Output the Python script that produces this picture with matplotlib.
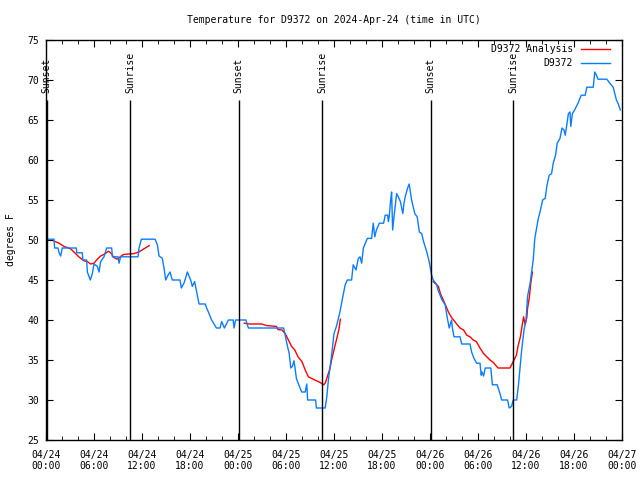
import numpy as np
import pandas as pd
import matplotlib
matplotlib.use("Agg")
import matplotlib.pyplot as plt
import matplotlib.dates as mdates

plt.rcParams['font.family'] = ['DejaVu Sans Mono']
plt.rcParams['font.size'] = 7

### DATA ###
start = pd.Timestamp("2024-04-24 00:00")

# station observations (hours since start, degrees F)
obs_hours = [0.0, 1.0, 1.08, 1.5, 1.6, 1.83, 2.04, 3.79, 3.85, 4.54, 4.6, 5.08, 5.17, 5.54, 5.79,
             6.0, 6.42, 6.63, 6.83, 7.25, 7.58, 8.21, 8.3, 9.0, 9.13, 9.33, 11.5, 11.63, 11.92,
             13.63, 13.92, 14.13, 14.54, 14.75, 14.96, 15.25, 15.5, 15.79, 16.75, 16.92, 17.25,
             17.67, 18.08, 18.29, 18.58, 18.92, 19.13, 19.9, 20.08, 20.3, 20.7, 21.3, 21.75,
             21.96, 22.3, 22.6, 22.8, 23.4, 23.5, 23.7, 25.0, 25.1, 25.3, 29.7, 29.9, 30.1,
             30.4, 30.6, 30.8, 31.0, 31.1, 31.3, 31.6, 31.96, 32.4, 32.6, 32.7, 33.7, 33.8,
             34.9, 35.1, 35.3, 35.7, 36.0, 36.3, 36.7, 37.1, 37.4, 37.67, 38.2, 38.4, 38.75,
             39.04, 39.25, 39.46, 39.67, 40.0, 40.17, 40.7, 40.9, 41.1, 41.3, 41.67, 42.2,
             42.4, 42.7, 42.8, 42.9, 43.08, 43.2, 43.33, 43.5, 43.83, 44.04, 44.3, 44.6,
             44.75, 44.9, 45.2, 45.4, 45.7, 46.1, 46.4, 46.67, 46.96, 47.2, 47.6, 47.9, 48.2,
             48.4, 48.8, 49.0, 49.5, 49.9, 50.1, 50.4, 50.7, 50.8, 51.0, 51.75, 51.96, 53.0,
             53.2, 53.5, 53.83, 54.25, 54.4, 54.5, 54.7, 54.9, 55.6, 55.8, 56.4, 56.75, 56.96,
             57.7, 57.9, 58.2, 58.3, 58.4, 58.83, 59.04, 59.25, 59.46, 59.75, 60.0, 60.2,
             60.5, 60.9, 61.1, 61.54, 61.75, 62.08, 62.4, 62.6, 62.9, 63.2, 63.4, 63.7, 63.9,
             64.25, 64.5, 64.75, 64.9, 65.1, 65.3, 65.5, 65.6, 65.8, 66.1, 66.5, 66.9, 67.4,
             67.6, 68.4, 68.6, 68.8, 69.0, 70.1, 70.4, 70.9, 71.1, 71.3, 71.5, 71.8]
obs_temp = [50.1, 50.1, 49.0, 49.0, 48.5, 48.0, 49.0, 49.0, 48.4, 48.4, 47.5, 47.5, 46.0, 45.0, 45.8,
            47.0, 46.7, 46.0, 47.3, 47.9, 49.0, 49.0, 47.9, 47.9, 47.1, 47.9, 47.9, 49.0, 50.1,
            50.1, 49.4, 48.0, 47.7, 46.5, 45.0, 45.6, 46.0, 45.0, 45.0, 44.0, 44.6,
            46.0, 45.0, 44.2, 44.8, 43.1, 42.0, 42.0, 41.5, 41.0, 40.0, 39.0, 39.0,
            39.8, 39.0, 39.6, 40.0, 40.0, 39.0, 40.0, 40.0, 39.6, 39.0, 39.0, 38.1, 37.1,
            35.8, 34.0, 34.2, 34.9, 34.2, 32.7, 31.9, 31.0, 31.0, 32.0, 30.0, 30.0, 29.0,
            29.0, 30.4, 32.5, 35.6, 38.3, 39.2, 40.8, 42.9, 44.4, 45.0, 45.0, 46.9, 46.25,
            47.7, 47.9, 47.1, 49.0, 49.8, 50.2, 50.2, 52.1, 50.4, 51.25, 52.1, 52.1,
            53.1, 53.1, 52.3, 52.9, 55.0, 56.0, 51.25, 52.9, 55.8, 55.4, 54.8, 53.3,
            54.6, 55.4, 56.5, 57.0, 55.0, 53.3, 52.9, 51.0, 50.8, 49.8, 48.5, 47.3, 45.6,
            45.0, 44.5, 43.75, 42.5, 41.9, 40.6, 39.0, 40.0, 39.0, 37.9, 37.9, 37.0, 37.0,
            36.0, 35.2, 34.6, 34.6, 33.1, 33.5, 33.0, 34.0, 34.0, 31.9, 31.9, 30.8, 30.0,
            30.0, 29.0, 29.2, 29.6, 30.0, 30.0, 31.7, 34.0, 36.25, 38.75, 40.0, 43.0,
            44.5, 47.5, 50.2, 52.7, 53.5, 55.0, 55.2, 56.7, 58.1, 58.3, 59.6, 60.6, 62.1,
            62.7, 64.0, 63.75, 63.1, 64.4, 65.8, 66.0, 64.2, 65.8, 66.3, 67.1, 68.1, 68.1,
            69.1, 69.1, 71.0, 70.6, 70.1, 70.1, 69.7, 69.1, 68.3, 67.5, 67.1, 66.25]

# analysis (three separate runs, NaN marks the gaps)
ana_hours = [0.92, 1.63, 2.25, 3.08, 3.7, 4.1, 4.75, 5.17, 5.58, 6.0, 6.42, 6.83, 7.25, 7.8,
             8.08, 8.5, 8.9, 9.54, 9.75, 11.0, 11.6, 12.25, 12.9, 12.95,
             24.79, 25.5, 26.96, 27.6, 28.8, 29.0, 29.5, 29.9, 30.3, 30.7, 31.1, 31.5, 32.0,
             32.4, 32.8, 33.2, 33.6, 34.25, 34.7, 34.9, 35.1, 35.5, 35.7, 36.1, 36.3, 36.6,
             36.8, 36.85,
             48.4, 49.05, 49.3, 49.75, 50.3, 50.7, 51.1, 51.75, 52.2, 52.6, 53.0, 53.4, 53.8,
             54.25, 54.7, 55.1, 55.5, 55.9, 56.5, 58.0, 58.4, 58.8, 59.0, 59.3, 59.5, 59.7,
             59.9, 60.1, 60.2, 60.4, 60.6, 60.8]
ana_temp = [49.9, 49.6, 49.2, 48.9, 48.3, 47.9, 47.4, 47.3, 47.0, 47.1, 47.6, 48.0, 48.2, 48.6,
            48.4, 47.8, 47.6, 48.1, 48.2, 48.3, 48.5, 48.9, 49.3, np.nan,
            39.6, 39.5, 39.5, 39.3, 39.2, 38.8, 38.75, 38.3, 37.5, 36.7, 36.25, 35.4, 34.8,
            33.75, 32.9, 32.7, 32.5, 32.2, 31.9, 32.1, 32.7, 33.96, 35.0, 36.7, 37.5, 38.75,
            40.1, np.nan,
            44.8, 44.2, 43.3, 42.3, 41.0, 40.3, 39.8, 39.0, 38.75, 38.1, 37.9, 37.5, 37.3,
            36.5, 35.8, 35.4, 35.0, 34.7, 34.0, 34.0, 34.8, 35.6, 36.7, 37.9, 39.2, 40.4,
            39.4, 40.3, 41.5, 42.7, 44.6, 46.0]

sun_hours = [0.1, 10.5, 24.1, 34.5, 48.1, 58.4]
sun_labels = ["Sunset", "Sunrise", "Sunset", "Sunrise", "Sunset", "Sunrise"]

obs_t = start + pd.to_timedelta(obs_hours, unit="h")
ana_t = start + pd.to_timedelta(ana_hours, unit="h")
sun_t = start + pd.to_timedelta(sun_hours, unit="h")

### PLOT ###
fig = plt.figure(figsize=(6.4, 4.8), dpi=100)
ax = fig.add_axes([46/640, 40/480, 576/640, 400/480])

ax.plot(ana_t, ana_temp, color="#ff0000", lw=1, label="D9372 Analysis")
ax.plot(obs_t, obs_temp, color="#0a7dff", lw=1, label="D9372")

# sunrise / sunset markers
ax.vlines(sun_t, 25, 67.5, color="black", lw=1)
for t, lab in zip(sun_t, sun_labels):
    ax.text(t, 68.4, lab, rotation=90, ha="center", va="bottom", fontsize=7)

ax.set_xlim(start, start + pd.Timedelta(hours=72))
ax.set_ylim(25, 75)
ax.xaxis.set_major_locator(mdates.HourLocator(byhour=[0, 6, 12, 18]))
ax.xaxis.set_minor_locator(mdates.HourLocator(interval=2))
ax.xaxis.set_major_formatter(mdates.DateFormatter("%m/%d\n%H:%M"))
ax.set_yticks(np.arange(25, 76, 5))
ax.tick_params(which="both", direction="in", top=True, right=True, labelsize=7)
ax.tick_params(axis="x", pad=7)
ax.tick_params(axis="y", pad=5)
ax.tick_params(which="major", length=5)
ax.tick_params(which="minor", length=3)
for s in ax.spines.values():
    s.set_linewidth(1)

ax.set_ylabel("degrees F", fontsize=7)
ax.yaxis.set_label_coords(-0.052, 0.5)
ax.set_title("Temperature for D9372 on 2024-Apr-24 (time in UTC)", fontsize=7, pad=12)

ax.legend(loc="upper right", bbox_to_anchor=(0.979, 0.99), frameon=False, markerfirst=False,
          fontsize=7, handlelength=3.0, handletextpad=0.8, labelspacing=0.45,
          borderpad=0, borderaxespad=0)

plt.savefig("out.png", dpi=100)
